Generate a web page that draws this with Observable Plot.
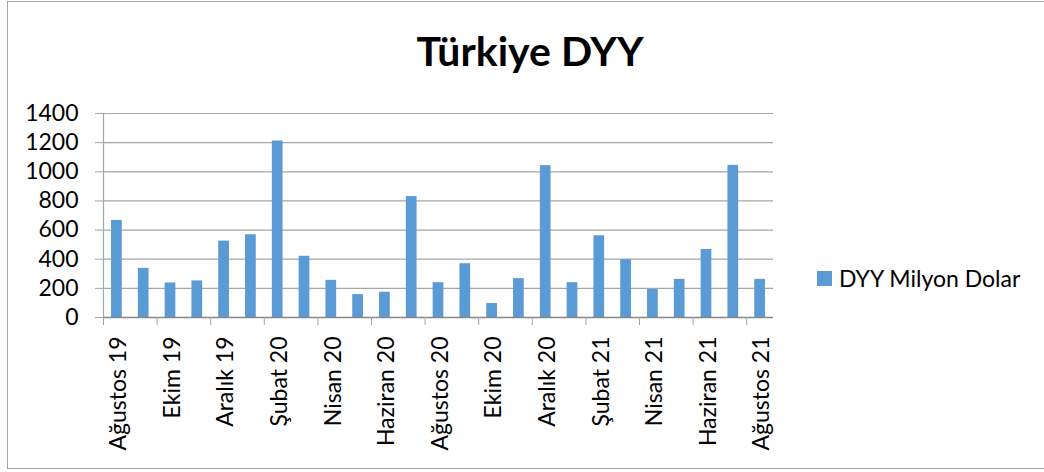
<!DOCTYPE html>
<html>
<head>
<meta charset="utf-8">
<script src="https://cdn.jsdelivr.net/npm/d3@7"></script>
<script src="https://cdn.jsdelivr.net/npm/@observablehq/plot@0.6"></script>
<style>
  html, body { margin: 0; padding: 0; background: #fff; }
  #wrap { position: relative; width: 1044px; height: 472px; overflow: hidden; font-family: Lato, "Open Sans", sans-serif; }
  #border { position: absolute; left: 7px; top: 1px; width: 1100px; height: 468px; border: 1.5px solid #a6a6a6; box-sizing: border-box; }
  #title { position: absolute; left: 0; width: 1060px; top: 27px; text-align: center; font-weight: bold; font-size: 41px; line-height: 48px; color: #000; }
  #chart { position: absolute; left: 0; top: 0; }
  #legend { position: absolute; left: 817px; top: 264px; font-size: 23px; line-height: 28px; color: #000; display: flex; align-items: center; }
  #legend .sw { width: 15px; height: 15px; background: #5b9bd5; margin-right: 7px; }
</style>
</head>
<body>
<div id="wrap">
  <div id="border"></div>
  <div id="title">Türkiye DYY</div>
  <div id="chart"></div>
  <div id="legend"><span class="sw"></span><span>DYY Milyon Dolar</span></div>
</div>
<script>
const months = ["Ağustos 19","Eylül 19","Ekim 19","Kasım 19","Aralık 19","Ocak 20","Şubat 20","Mart 20","Nisan 20","Mayıs 20","Haziran 20","Temmuz 20","Ağustos 20","Eylül 20","Ekim 20","Kasım 20","Aralık 20","Ocak 21","Şubat 21","Mart 21","Nisan 21","Mayıs 21","Haziran 21","Temmuz 21","Ağustos 21"];
const values = [666, 337, 237, 251, 524, 568, 1211, 420, 255, 157, 173, 830, 239, 369, 96, 267, 1042, 239, 561, 397, 192, 262, 467, 1044, 262];
const labelMonths = months.filter((d, i) => i % 2 === 0);
const yTicks = [0, 200, 400, 600, 800, 1000, 1200, 1400];
const seriesName = "DYY Milyon Dolar";

const data = months.map((m, i) => ({month: m, value: values[i]}));

const W = 1044, H = 472;
const mL = 103, mR = 271, mT = 113, mB = 155;
const step = (W - mL - mR) / months.length;

const plot = Plot.plot({
  width: W,
  height: H,
  marginLeft: mL,
  marginRight: mR,
  marginTop: mT,
  marginBottom: mB,
  style: {fontFamily: "Lato, 'Open Sans', sans-serif", background: "transparent", color: "#000"},
  x: {domain: months, paddingInner: 0.6, paddingOuter: 0.3, round: false},
  y: {domain: [0, 1400]},
  marks: [
    Plot.gridY(yTicks, {stroke: "#a6a6a6", strokeOpacity: 1, strokeWidth: 1.2}),
    Plot.axisY(yTicks, {tickSize: 8, tickPadding: 17, fontSize: 23, tickFormat: d => String(d), stroke: "#a6a6a6", fill: "#000", label: null}),
    Plot.barY(data, {x: "month", y: "value", fill: "#5b9bd5"}),
    Plot.ruleY([0], {stroke: "#868686", strokeWidth: 1.3}),
    Plot.ruleX([months[0]], {dx: -step / 2, stroke: "#a6a6a6", strokeWidth: 1.2}),
    Plot.axisX(labelMonths, {tickSize: 0, tickPadding: 19, rotate: -90, textAnchor: "end", dx: -7, fontSize: 23, fill: "#000", label: null}),
    Plot.axisX(labelMonths, {tickSize: 8, text: null, dx: -step / 2, stroke: "#a6a6a6", label: null})
  ]
});
document.getElementById("chart").appendChild(plot);
</script>
</body>
</html>
